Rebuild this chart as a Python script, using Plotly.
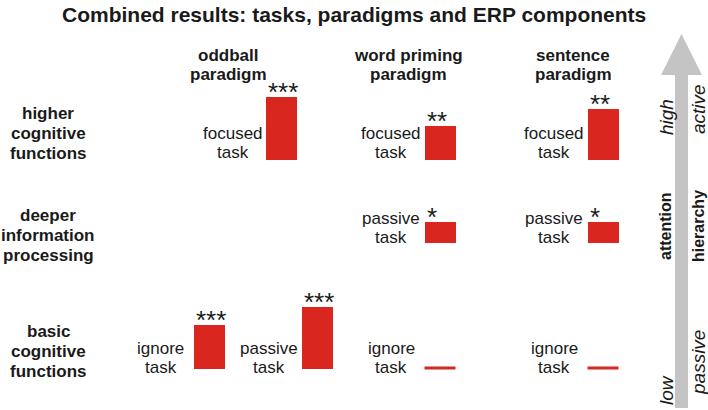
import plotly.graph_objects as go

# ---------------- data ----------------
paradigms = ["oddball", "word priming", "sentence"]
paradigm_titles = [["oddball", "paradigm"], ["word priming", "paradigm"], ["sentence", "paradigm"]]
levels = [["higher", "cognitive", "functions"],
          ["deeper", "information", "processing"],
          ["basic", "cognitive", "functions"]]

cond_paradigm = ["oddball", "word priming", "sentence",
                 "word priming", "sentence",
                 "oddball", "oddball", "word priming", "sentence"]
cond_task = ["focused", "focused", "focused",
             "passive", "passive",
             "ignore", "passive", "ignore", "ignore"]
cond_level = [0, 0, 0, 1, 1, 2, 2, 2, 2]
cond_amplitude = [63, 34, 51, 21, 21, 44, 62, 0, 0]
cond_significance = ["***", "**", "**", "*", "*", "***", "***", "", ""]

# ---------------- layout constants ----------------
W, H = 708, 410
RED = "#d92720"
GREY = "#c4c4c4"
TXT = "#1a1a1a"
FONT = "Liberation Sans, Arial, sans-serif"
BAR_W = 31
slot_x = {("oddball", "focused"): 281.5, ("oddball", "ignore"): 209.5,
          ("oddball", "passive"): 317.5,
          "word priming": 440, "sentence": 603}
header_x = {"oddball": 228, "word priming": 408, "sentence": 573}
row_base = [160, 243, 369]
row_label_y = [133, 235, 351]
task_label_y = [133, 218, 348]


def bar_x(p, t):
    return slot_x.get((p, t), slot_x.get(p))


fig = go.Figure()

xs, ys, bases = [], [], []
for p, t, lv, a in zip(cond_paradigm, cond_task, cond_level, cond_amplitude):
    if a > 0:
        xs.append(bar_x(p, t))
        ys.append(-a)
        bases.append(row_base[lv])
fig.add_trace(go.Bar(x=xs, y=ys, base=bases, width=BAR_W, marker=dict(color=RED, line=dict(width=0)),
                     hoverinfo="skip", showlegend=False))

# zero-amplitude conditions drawn as flat lines at the baseline
for p, t, lv, a in zip(cond_paradigm, cond_task, cond_level, cond_amplitude):
    if a == 0:
        cx = bar_x(p, t)
        fig.add_trace(go.Scatter(x=[cx - BAR_W / 2, cx + BAR_W / 2], y=[row_base[lv] - 1, row_base[lv] - 1],
                                 mode="lines", line=dict(color=RED, width=3), hoverinfo="skip",
                                 showlegend=False))

annotations = []


def add_lines(lines, x, y_first, spacing, size, bold=False, xanchor="center", xshift=0):
    for i, ln in enumerate(lines):
        txt = f"<b>{ln}</b>" if bold else ln
        annotations.append(dict(x=x, y=y_first + i * spacing, xref="x", yref="y", text=txt,
                                showarrow=False, xanchor=xanchor, yanchor="middle", xshift=xshift,
                                font=dict(family=FONT, size=size, color=TXT)))


# title
annotations.append(dict(x=354, y=14, xref="x", yref="y", showarrow=False, yanchor="middle",
                        text="<b>Combined results: tasks, paradigms and ERP components</b>",
                        font=dict(family=FONT, size=21, color=TXT)))

# paradigm headers
for p, lines in zip(paradigms, paradigm_titles):
    add_lines(lines, header_x[p], 55, 19.5, 17, bold=True)

# row labels
for lines, yc in zip(levels, row_label_y):
    add_lines(lines, 48, yc - 20, 20, 17, bold=True)

# task labels and significance stars
for p, t, lv, a, s in zip(cond_paradigm, cond_task, cond_level, cond_amplitude, cond_significance):
    cx = bar_x(p, t)
    base = row_base[lv]
    add_lines([t, "task"], cx - 49, task_label_y[lv], 19, 17)
    if s:
        annotations.append(dict(x=cx - BAR_W / 2, y=base - a, xref="x", yref="y", text=s, showarrow=False,
                                xanchor="left", yanchor="bottom", yshift=-12,
                                font=dict(family=FONT, size=26, color=TXT)))

# arrow labels
def rot_label(text, x, y, size, bold=False, italic=False):
    if bold:
        text = f"<b>{text}</b>"
    if italic:
        text = f"<i>{text}</i>"
    annotations.append(dict(x=x, y=y, xref="x", yref="y", text=text, showarrow=False, textangle=-90,
                            xanchor="center", yanchor="middle", font=dict(family=FONT, size=size, color=TXT)))


rot_label("high", 666, 117, 19, italic=True)
rot_label("attention", 665, 226, 16, bold=True)
rot_label("low", 666, 390, 19, italic=True)
rot_label("active", 698, 109, 19, italic=True)
rot_label("hierarchy", 698, 226, 16, bold=True)
rot_label("passive", 698, 363, 19, italic=True)

# grey arrow
arrow_path = "M 675,408 L 675,75 L 661,75 L 681.5,34 L 702,75 L 688,75 L 688,408 Z"
shapes = [dict(type="path", path=arrow_path, xref="x", yref="y", fillcolor=GREY, line=dict(width=0),
               layer="below")]

fig.update_layout(
    width=W, height=H, margin=dict(l=0, r=0, t=0, b=0),
    paper_bgcolor="white", plot_bgcolor="white",
    xaxis=dict(range=[0, W], visible=False, fixedrange=True),
    yaxis=dict(range=[H, 0], visible=False, fixedrange=True),
    annotations=annotations, shapes=shapes, bargap=0,
)

fig.write_html("out.html", config={"displayModeBar": False},
               post_script="document.body.style.margin='0';document.body.style.overflow='hidden';")
